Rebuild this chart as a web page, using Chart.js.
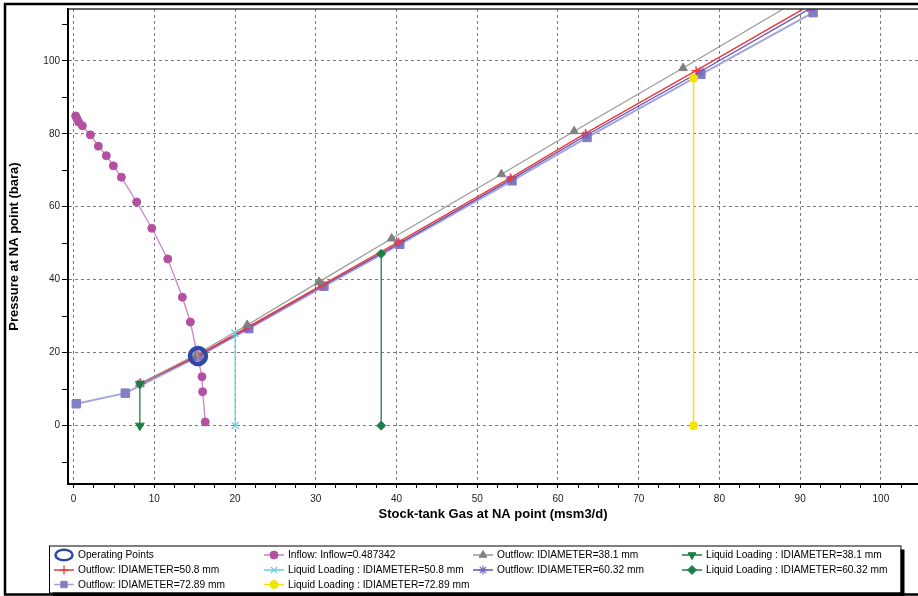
<!DOCTYPE html>
<html><head><meta charset="utf-8">
<script src="https://cdn.jsdelivr.net/npm/chart.js@4.4.1/dist/chart.umd.min.js"></script>
<style>html,body{margin:0;padding:0;background:#fff;overflow:hidden}canvas{display:block}</style>
</head><body><canvas id="c" width="918" height="596"></canvas>
<script>
// ---- data ----
const opQ = [15.4];
const opP = [19.1];

const inflowQ = [0.25, 0.41, 0.62, 1.08, 2.07, 3.06, 4.05, 4.92, 5.91, 7.81, 9.68, 11.66, 13.47, 14.46, 15.9, 15.98, 16.3];
const inflowP = [84.9, 84.1, 83.2, 82.2, 79.7, 76.6, 74.0, 71.2, 68.1, 61.3, 54.1, 45.7, 35.2, 28.4, 13.4, 9.3, 1.0];

const out38Q = [8.2, 15.2, 21.5, 30.4, 39.4, 53.0, 62.0, 75.5, 89.5];
const out38P = [11.5, 19.5, 27.6, 39.4, 51.3, 68.9, 80.7, 98.0, 116.3];

const out50Q = [8.3, 15.4, 21.5, 30.8, 40.2, 54.1, 63.4, 77.1, 91.0];
const out50P = [11.6, 19.3, 26.9, 38.6, 50.3, 67.9, 80.1, 97.3, 115.0];

const out60Q = [8.3, 15.4, 21.6, 30.9, 40.3, 54.2, 63.5, 77.6, 91.3];
const out60P = [11.5, 19.1, 26.7, 38.4, 49.9, 67.5, 79.6, 97.0, 114.4];

const out72Q = [0.33, 6.4, 15.5, 21.7, 31.0, 40.4, 54.3, 63.6, 77.7, 91.6];
const out72P = [6.0, 8.9, 19.0, 26.6, 38.2, 49.7, 67.1, 79.0, 96.3, 113.2];

const ll38Q = [8.2, 8.2];   const ll38P = [11.4, 0];
const ll50Q = [20.0, 20.0]; const ll50P = [25.3, 0];
const ll60Q = [38.1, 38.1]; const ll60P = [47.1, 0];
const ll72Q = [76.8, 76.8]; const ll72P = [95.2, 0];

const seriesLabels = [
  'Operating Points', 'Inflow: Inflow=0.487342', 'Outflow: IDIAMETER=38.1 mm', 'Liquid Loading : IDIAMETER=38.1 mm',
  'Outflow: IDIAMETER=50.8 mm', 'Liquid Loading : IDIAMETER=50.8 mm', 'Outflow: IDIAMETER=60.32 mm', 'Liquid Loading : IDIAMETER=60.32 mm',
  'Outflow: IDIAMETER=72.89 mm', 'Liquid Loading : IDIAMETER=72.89 mm'
];

const xTickValues = [0, 2.5, 5, 7.5, 10, 12.5, 15, 17.5, 20, 22.5, 25, 27.5, 30, 32.5, 35, 37.5, 40, 42.5, 45, 47.5, 50, 52.5, 55, 57.5, 60, 62.5, 65, 67.5, 70, 72.5, 75, 77.5, 80, 82.5, 85, 87.5, 90, 92.5, 95, 97.5, 100, 102.5];
const xTickLabels = [0, 10, 20, 30, 40, 50, 60, 70, 80, 90, 100];
const yTickValues = [-10, 0, 10, 20, 30, 40, 50, 60, 70, 80, 90, 100, 110];
const yTickLabels = [0, 20, 40, 60, 80, 100];

const xTitle = 'Stock-tank Gas at NA point (msm3/d)';
const yTitle = 'Pressure at NA point (bara)';

// ---- build ----
const pts = (q, p) => q.map((v, i) => ({x: v, y: p[i]}));
const FONT = "'Liberation Sans', Arial, sans-serif";
Chart.defaults.font.family = FONT;

const datasets = [
  {label: seriesLabels[0], order: 0, data: pts(opQ, opP), showLine: false, pointStyle: 'circle', pointRadius: 8, borderWidth: 4.5,
   borderColor: '#2E4AA5', backgroundColor: 'rgba(0,0,0,0)', pointBorderWidth: 4.5},
  {label: seriesLabels[1], order: 2, data: pts(inflowQ, inflowP), showLine: true, borderColor: '#CC84C2', borderWidth: 1.3,
   pointStyle: 'circle', pointRadius: 4, pointBackgroundColor: '#B4509F', pointBorderColor: '#B4509F', pointBorderWidth: 1},
  {label: seriesLabels[2], order: 3, data: pts(out38Q, out38P), showLine: true, borderColor: '#9A9A9A', borderWidth: 1.2,
   pointStyle: 'triangle', pointRadius: 5, pointBackgroundColor: '#808080', pointBorderColor: '#808080', pointBorderWidth: 1},
  {label: seriesLabels[3], order: 1, data: pts(ll38Q, ll38P), showLine: true, borderColor: '#1C8040', borderWidth: 1.3,
   pointStyle: 'triangle', rotation: 180, pointRadius: 5, pointBackgroundColor: '#1C8040', pointBorderColor: '#1C8040', pointBorderWidth: 1},
  {label: seriesLabels[4], order: 3, data: pts(out50Q, out50P), showLine: true, borderColor: '#F03A3A', borderWidth: 1.5,
   pointStyle: 'cross', pointRadius: 4.5, pointBackgroundColor: '#F03A3A', pointBorderColor: '#F03A3A', pointBorderWidth: 1.3},
  {label: seriesLabels[5], order: 1, data: pts(ll50Q, ll50P), showLine: true, borderColor: '#6CCBDD', borderWidth: 1.2,
   pointStyle: 'crossRot', pointRadius: 5, pointBackgroundColor: '#6CCBDD', pointBorderColor: '#6CCBDD', pointBorderWidth: 1.2},
  {label: seriesLabels[6], order: 3, data: pts(out60Q, out60P), showLine: true, borderColor: '#5F52B5', borderWidth: 1.3,
   pointStyle: 'star', pointRadius: 5, pointBackgroundColor: '#7A64C0', pointBorderColor: '#7A64C0', pointBorderWidth: 1.2},
  {label: seriesLabels[7], order: 1, data: pts(ll60Q, ll60P), showLine: true, borderColor: '#1C7F4A', borderWidth: 1.3,
   pointStyle: 'rectRot', pointRadius: 4.5, pointBackgroundColor: '#1C7F4A', pointBorderColor: '#1C7F4A', pointBorderWidth: 1},
  {label: seriesLabels[8], order: 4, data: pts(out72Q, out72P), showLine: true, borderColor: '#A4A4DE', borderWidth: 2,
   pointStyle: 'rect', pointRadius: 6, pointBackgroundColor: '#8080C4', pointBorderColor: '#8080C4', pointBorderWidth: 1},
  {label: seriesLabels[9], order: 1, data: pts(ll72Q, ll72P), showLine: true, borderColor: '#F2E400', borderWidth: 1.5,
   pointStyle: 'circle', pointRadius: 4, pointBackgroundColor: '#F2E400', pointBorderColor: '#F2E400', pointBorderWidth: 1}
];

const framePlugin = {
  id: 'frameAndLegend',
  afterDraw(chart) {
    const ctx = chart.ctx;
    const ca = chart.chartArea;
    ctx.save();
    // plot top border
    ctx.strokeStyle = '#333'; ctx.lineWidth = 1.5;
    ctx.beginPath(); ctx.moveTo(ca.left, ca.top); ctx.lineTo(chart.width, ca.top); ctx.stroke();
    // outer frame
    ctx.strokeStyle = '#000'; ctx.lineWidth = 2.5;
    ctx.beginPath();
    ctx.moveTo(chart.width, 4); ctx.lineTo(5, 4); ctx.lineTo(5, 594.5); ctx.lineTo(chart.width, 594.5);
    ctx.stroke();

    // legend box with shadow
    const bx = 49, by = 545.5, bw = 851.5, bh = 47;
    ctx.fillStyle = '#000';
    ctx.fillRect(bx + 4, by + 4, bw, bh);
    ctx.fillStyle = '#fff';
    ctx.fillRect(bx, by, bw, bh);
    ctx.strokeStyle = '#000'; ctx.lineWidth = 1;
    ctx.strokeRect(bx + 0.5, by + 0.5, bw, bh);

    const cols = [{l: 54, r: 74, t: 78}, {l: 264, r: 284, t: 288}, {l: 473, r: 493, t: 497}, {l: 682, r: 702, t: 706}];
    const rows = [555, 570, 584.5];
    ctx.font = '10.2px ' + FONT;
    ctx.textBaseline = 'middle';
    ctx.textAlign = 'left';
    chart.data.datasets.forEach((ds, i) => {
      const c = cols[i % 4], y = rows[Math.floor(i / 4)];
      const cx = (c.l + c.r) / 2;
      if (i === 0) {
        ctx.strokeStyle = ds.borderColor; ctx.lineWidth = 2.6;
        ctx.beginPath(); ctx.ellipse(cx, y, 8.5, 5.3, 0, 0, Math.PI * 2); ctx.stroke();
      } else {
        ctx.strokeStyle = ds.borderColor; ctx.lineWidth = 1.5;
        ctx.beginPath(); ctx.moveTo(c.l, y); ctx.lineTo(c.r, y); ctx.stroke();
        ctx.fillStyle = ds.pointBackgroundColor; ctx.strokeStyle = ds.pointBorderColor; ctx.lineWidth = ds.pointBorderWidth;
        Chart.helpers.drawPoint(ctx, {pointStyle: ds.pointStyle, rotation: ds.rotation || 0, radius: Math.min(ds.pointRadius, 4.5), borderWidth: ds.pointBorderWidth}, cx, y);
      }
      ctx.fillStyle = '#000';
      ctx.fillText(ds.label, c.t, y + 0.5);
    });
    ctx.restore();
  }
};

new Chart(document.getElementById('c'), {
  type: 'scatter',
  data: {datasets},
  options: {
    responsive: false, animation: false, devicePixelRatio: 1,
    layout: {autoPadding: false, padding: {left: 6, top: 9, right: 0, bottom: 68}},
    plugins: {legend: {display: false}, tooltip: {enabled: false}},
    elements: {line: {tension: 0}},
    scales: {
      x: {
        type: 'linear', min: -0.7, max: 104.6,
        afterBuildTicks: s => { s.ticks = xTickValues.map(v => ({value: v})); },
        afterFit: s => { s.height = 44; s.paddingLeft = 0; s.paddingRight = 0; },
        ticks: {autoSkip: false, maxRotation: 0, padding: 5, color: '#222', font: {size: 10},
                callback: v => xTickLabels.includes(v) ? String(v) : ''},
        grid: {drawOnChartArea: true, tickLength: 4, tickColor: '#000', tickWidth: 1, lineWidth: 1,
               color: c => (c.tick && xTickLabels.includes(c.tick.value)) ? '#7a7a7a' : 'rgba(0,0,0,0)'},
        border: {display: true, color: '#000', width: 2, dash: [3, 3]},
        title: {display: true, text: xTitle, color: '#000', font: {size: 13, weight: 'bold'}, padding: {top: 0, bottom: 6}}
      },
      y: {
        type: 'linear', min: -16, max: 114.2,
        afterBuildTicks: s => { s.ticks = yTickValues.map(v => ({value: v})); },
        afterFit: s => { s.width = 62; s.paddingTop = 0; s.paddingBottom = 0; },
        ticks: {autoSkip: false, padding: 2, color: '#222', font: {size: 10},
                callback: v => yTickLabels.includes(v) ? String(v) : ''},
        grid: {drawOnChartArea: true, tickLength: 6, tickColor: '#000', tickWidth: 1, lineWidth: 1,
               color: c => (c.tick && yTickLabels.includes(c.tick.value)) ? '#7a7a7a' : 'rgba(0,0,0,0)'},
        border: {display: true, color: '#000', width: 2, dash: [3, 3]},
        title: {display: true, text: yTitle, color: '#000', font: {size: 13, weight: 'bold'}, padding: {top: 1, bottom: 0}}
      }
    }
  },
  plugins: [framePlugin]
});
</script>
</body></html>
